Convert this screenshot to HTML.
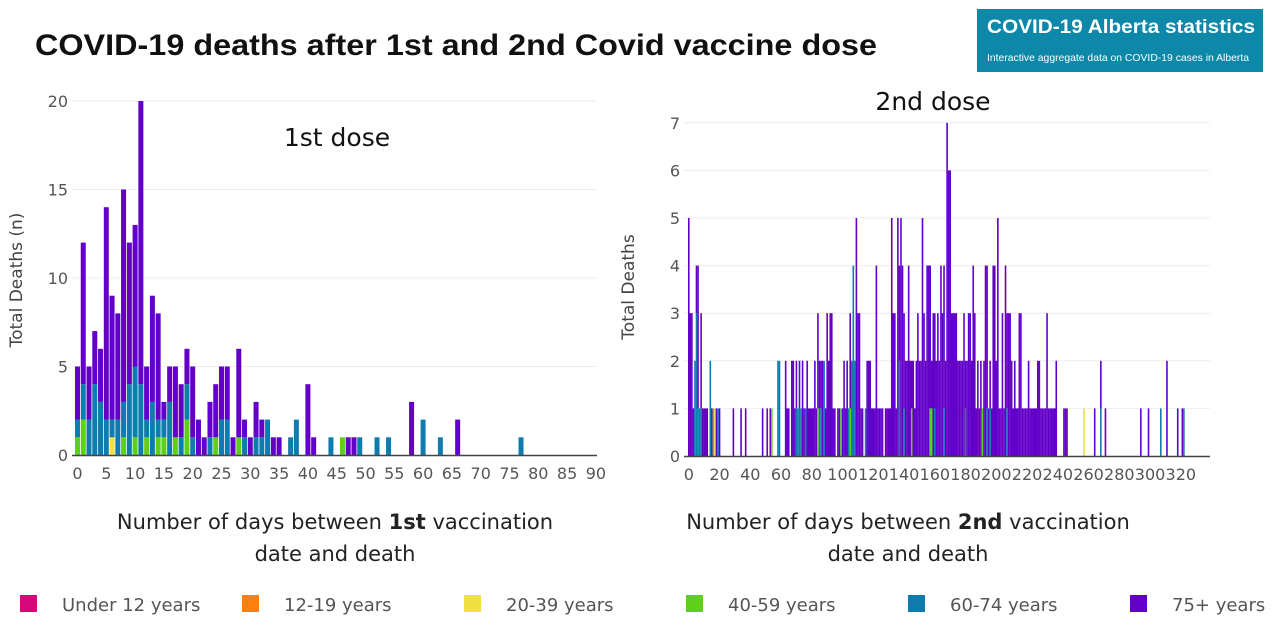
<!DOCTYPE html>
<html><head><meta charset="utf-8"><style>
body{margin:0;background:#fff}
svg{display:block;font-family:"DejaVu Sans","Liberation Sans",sans-serif}
</style></head><body>
<svg id="s" width="1280" height="640" viewBox="0 0 1280 640">
<text x="35" y="55" font-size="30" font-weight="bold" fill="#111" font-family="Liberation Sans, sans-serif" textLength="842" lengthAdjust="spacingAndGlyphs">COVID-19 deaths after 1st and 2nd Covid vaccine dose</text>
<g font-family="Liberation Sans, sans-serif">
<rect x="977" y="9" width="286" height="63" fill="#0d88a8"/>
<text x="987" y="33" font-size="19" font-weight="bold" fill="#fff" textLength="268" lengthAdjust="spacingAndGlyphs">COVID-19 Alberta statistics</text>
<text x="987" y="61" font-size="10.5" fill="#fff" textLength="262" lengthAdjust="spacingAndGlyphs">Interactive aggregate data on COVID-19 cases in Alberta</text>
</g>
<g id="left"></g>
<g id="right"></g>
<text x="337" y="146" font-size="25" text-anchor="middle" fill="#111">1st dose</text>
<text x="933" y="110" font-size="25" text-anchor="middle" fill="#111">2nd dose</text>
<text transform="translate(22,280) rotate(-90)" font-size="17" text-anchor="middle" fill="#444">Total Deaths (n)</text>
<text transform="translate(634,287) rotate(-90)" font-size="17" text-anchor="middle" fill="#444">Total Deaths</text>
<g font-size="21" text-anchor="middle" fill="#222">
<text x="335" y="529">Number of days between <tspan font-weight="bold">1st</tspan> vaccination</text>
<text x="335" y="561">date and death</text></g>
<g font-size="21" text-anchor="middle" fill="#222">
<text x="908" y="529">Number of days between <tspan font-weight="bold">2nd</tspan> vaccination</text>
<text x="908" y="561">date and death</text></g>
<g id="legend"></g>
</svg>
<script>
const NS="http://www.w3.org/2000/svg";
const ageGroups=["Under 12 years","12-19 years","20-39 years","40-59 years","60-74 years","75+ years"];
const ageColors=["#d6087a","#ff7f0e","#f0e040","#5fd01a","#0f7cb0","#6200c9"];
// Left chart (1st dose): days and stacked counts
const daysL=[0,1,2,3,4,5,6,7,8,9,10,11,12,13,14,15,16,17,18,19,20,21,22,23,24,25,26,27,28,29,30,31,32,33,34,35,37,38,40,41,44,46,47,48,49,52,54,58,60,63,66,77];
const yellowL=[0,0,0,0,0,0,1,0,0,0,0,0,0,0,0,0,0,0,0,0,0,0,0,0,0,0,0,0,0,0,0,0,0,0,0,0,0,0,0,0,0,0,0,0,0,0,0,0,0,0,0,0];
const greenL=[1,2,0,0,0,0,0,0,1,0,1,0,1,0,1,1,0,1,0,2,0,0,0,0,1,0,0,0,1,0,0,0,0,0,0,0,0,0,0,0,0,1,0,0,0,0,0,0,0,0,0,0];
const tealL=[1,2,2,4,3,2,1,2,2,4,4,4,1,3,1,1,3,0,1,2,1,0,0,1,0,2,2,0,0,1,0,1,1,2,0,0,1,2,0,0,1,0,0,0,1,1,1,0,2,1,0,1];
const purpleL=[3,8,3,3,3,12,7,6,12,8,8,16,3,6,6,1,2,4,3,2,4,2,1,2,3,3,3,1,5,1,1,2,1,0,1,1,0,0,4,1,0,0,1,1,0,0,0,3,0,0,2,0];
const xTicksL=[0,5,10,15,20,25,30,35,40,45,50,55,60,65,70,75,80,85,90];
const yTicksL=[0,5,10,15,20];
// Right chart (2nd dose): total per day from day 0
const totalR=[5,3,3,1,2,4,4,1,3,1, 1,1,1,0,2,1,1,1,1,1, 1,0,0,0,0,0,0,0,0,1, 0,0,0,0,1,0,0,1,0,0,
0,0,0,0,0,0,0,0,1,0, 0,1,0,1,1,0,0,0,2,2, 0,0,0,2,1,1,0,2,2,1, 2,1,2,1,2,1,1,2,1,1,
1,1,2,1,3,2,2,2,2,1, 3,2,3,3,1,1,0,1,1,1, 1,2,1,2,1,3,2,4,2,5, 3,3,1,1,0,1,2,2,2,1,
1,1,4,1,1,1,1,0,1,1, 1,1,5,3,3,1,5,4,5,4, 3,2,2,4,2,2,2,1,2,3, 2,2,5,3,2,4,4,4,2,3,
3,2,3,2,4,3,4,2,7,6, 6,3,3,3,3,2,2,2,2,3, 2,2,3,3,2,4,3,1,2,1, 2,1,2,4,4,1,2,1,4,4,
2,5,1,1,3,1,4,3,3,3, 2,1,2,1,1,3,3,1,1,1, 1,2,1,1,1,1,1,2,2,1, 1,1,1,3,1,1,1,1,1,2,
0,0,0,0,1,1,1,0,0,0, 0,0,0,0,0,0,0,1,0,0, 0,0,0,0,1,0,0,0,2,0, 0,1,0,0,0,0,0,0,0,0,
0,0,0,0,0,0,0,0,0,0, 0,0,0,0,1,0,0,0,0,1, 0,0,0,0,0,0,0,1,0,0, 0,2,0,0,0,0,0,0,1,0,
0,1,1];
const tealDaysR=[4,5,6,7,8,14,19,58,59,70,71,72,73,76,85,86,88,104,106,107,108,115,137,140,160,166,180,194,196,207,268,307,322];
const tealCountR=[2,3,1,1,1,2,1,2,2,1,1,1,2,1,1,1,2,1,2,4,2,1,2,1,1,1,1,1,1,1,1,1,1];
const greenDaysR=[16,54,84,99,105,145,157,158,191];
const yellowDaysR=[17,257];
const xTicksR=[0,20,40,60,80,100,120,140,160,180,200,220,240,260,280,300,320];
const yTicksR=[0,1,2,3,4,5,6,7];

function el(tag,attrs,parent){const e=document.createElementNS(NS,tag);for(const k in attrs)e.setAttribute(k,attrs[k]);parent.appendChild(e);return e;}
function axis(g,cfg){
  const yS=v=>cfg.y0-v*cfg.py, xS=d=>cfg.x0+d*cfg.px;
  cfg.yTicks.forEach(t=>{
    if(t>0){const l=el('line',{x1:cfg.gx1,x2:cfg.gx2,y1:yS(t),y2:yS(t),stroke:'#eee','stroke-width':1},g);
    
    }
    const tx=el('text',{x:cfg.gx1-4,y:yS(t)+6,'font-size':16,'text-anchor':'end',fill:'#555'},g);
    tx.textContent=t;
    
    
  });
  cfg.xTicks.forEach(t=>{
    const tx=el('text',{x:xS(t)+cfg.bw/2,y:cfg.y0+24,'font-size':16,'text-anchor':'middle',fill:'#555'},g);
    tx.textContent=t;
    
    
  });
  return {xS,yS};
}
function bar(g,x,y,w,h,c){
  const r=el('rect',{x:x,y:y,width:w,height:h,fill:c},g);
  
  
}
// left
const gL=document.getElementById('left');
const cL={x0:75,px:5.76,y0:455,py:17.7,gx1:72,gx2:597,bw:5,xTicks:xTicksL,yTicks:yTicksL};
const aL=axis(gL,cL);
daysL.forEach((d,i)=>{
  let base=0;
  [[yellowL,2],[greenL,3],[tealL,4],[purpleL,5]].forEach(([arr,ci])=>{
    const v=arr[i]; if(!v)return;
    bar(gL,aL.xS(d),aL.yS(base+v),cL.bw,v*cL.py,ageColors[ci]); base+=v;
  });
});
el('line',{x1:72,x2:597,y1:455.5,y2:455.5,stroke:'#444','stroke-width':1.5},gL);
// right
const gR=document.getElementById('right');
const cR={x0:688,px:1.5375,y0:456,py:47.6,gx1:684,gx2:1210,bw:1.6,xTicks:xTicksR,yTicks:yTicksR};
const aR=axis(gR,cR);
totalR.forEach((tot,d)=>{
  if(!tot)return;
  let base=0;
  const yi=yellowDaysR.indexOf(d), gi=greenDaysR.indexOf(d), ti=tealDaysR.indexOf(d);
  const segs=[[yi>=0?1:0,2],[gi>=0?1:0,3],[ti>=0?tealCountR[ti]:0,4]];
  segs.forEach(([v,ci])=>{ if(!v)return; v=Math.min(v,tot-base); if(v<=0)return;
    bar(gR,aR.xS(d),aR.yS(base+v),cR.bw,v*cR.py,ageColors[ci]); base+=v;});
  if(tot>base) bar(gR,aR.xS(d),aR.yS(tot),cR.bw,(tot-base)*cR.py,ageColors[5]);
});
el('line',{x1:684,x2:1210,y1:456.5,y2:456.5,stroke:'#444','stroke-width':1.5},gR);
// legend
const lg=document.getElementById('legend');
ageGroups.forEach((n,i)=>{
  const g=el('g',{},lg);
  
  
  el('rect',{x:20+i*222,y:595,width:17,height:17,fill:ageColors[i]},g);
  const t=el('text',{x:62+i*222,y:611,'font-size':18,fill:'#555'},g);
  t.textContent=n;
});
</script>
</body></html>
